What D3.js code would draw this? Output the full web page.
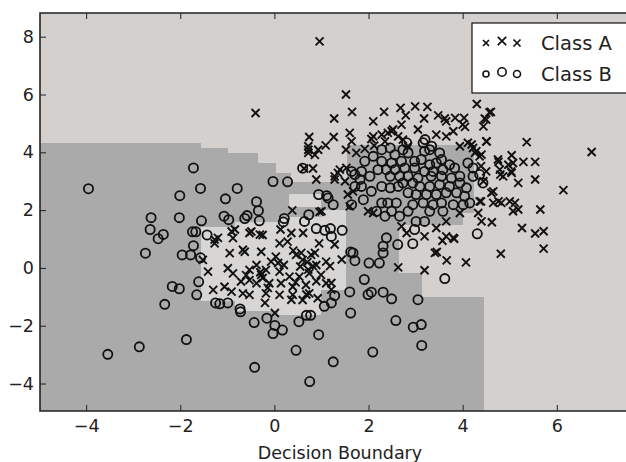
<!DOCTYPE html>
<html>
<head>
<meta charset="utf-8">
<script src="https://cdn.jsdelivr.net/npm/d3@7"></script>
<style>
  body { margin: 0; background: #fff; }
  text { font-family: "DejaVu Sans", sans-serif; }
</style>
</head>
<body>
<div id="vis"></div>
<script>
const FRAME_WIDTH = 626;
const FRAME_HEIGHT = 462;
const MARGINS = {left: 40, right: 0, top: 13, bottom: 51};

// tick labels
const X_TICKS = [-4, -2, 0, 2, 4, 6];
const Y_TICKS = [-4, -2, 0, 2, 4, 6, 8];

// decision regions, data coords [x0, x1, y0, y1]
const DARK_REGIONS = [
  [-4.98, -1.55, -4.95, 4.33],
  [-1.55, -0.98, -4.95, 4.15],
  [-0.98, -0.34, -4.95, 3.99],
  [-0.34, 0.04, -4.95, 3.64],
  [0.04, 0.36, -4.95, 3.29],
  [0.36, 1.55, -4.95, 2.97],
  [1.55, 4.25, 1.9, 4.25],
  [2.64, 4.0, 1.5, 1.9],
  [1.55, 2.64, -4.95, 1.9],
  [2.64, 3.13, -4.95, -0.16],
  [3.13, 4.45, -4.95, -1.0]
];
const LIGHT_REGIONS = [
  [-1.55, -0.84, -1.16, 1.43],
  [-0.84, 0.08, -1.5, 1.6],
  [0.08, 1.0, -1.62, 1.75],
  [1.0, 1.53, -0.75, 2.0],
  [0.3, 1.0, 2.1, 2.55]
];

// Class A (crosses)
const CLASS_A = [
  [0.96,7.84],[-0.40,5.36],[1.52,6.0],[1.27,5.17],[1.65,5.40],[2.10,5.07],[2.33,5.40],[2.68,5.54],
  [2.99,5.59],[3.25,5.57],[2.79,5.28],[3.18,5.17],[3.48,5.28],[3.62,5.17],[3.84,5.19],[4.03,5.19],
  [4.30,5.67],[4.60,5.40],[4.47,5.17],[4.44,4.90],[4.05,4.88],[3.80,4.73],[3.05,4.79],[2.49,4.73],
  [2.70,4.96],[2.28,4.61],[2.10,4.55],[1.60,4.67],[1.26,4.53],[0.74,4.53],[0.72,4.09],[0.86,3.91],
  [0.63,3.44],[0.82,3.44],[0.89,3.06],[1.09,4.24],[0.93,4.09],[1.52,4.09],[1.64,4.38],[5.36,4.35],
  [4.51,4.38],[6.74,4.01],[6.14,2.69],[4.76,3.67],[5.04,3.90],[5.29,3.67],[5.54,3.67],[4.97,3.57],
  [5.54,3.06],[4.80,3.23],[5.18,2.94],[5.04,3.29],[4.65,2.65],[4.44,3.00],[4.39,2.30],[4.76,2.30],
  [5.11,2.25],[5.18,2.02],[5.65,2.02],[5.26,1.38],[5.54,1.19],[5.72,1.27],[5.72,0.67],[4.81,0.49],
  [4.07,0.19],[3.66,0.26],[3.41,0.52],[3.45,0.55],[3.82,1.01],[3.57,0.94],[3.19,-0.08],[2.63,0.02],
  [4.40,1.61],[4.62,1.58],[0.38,1.99],[0.96,1.94],[-0.84,1.33],[-0.53,1.21],[-0.31,1.15],[0.13,1.33],
  [0.36,1.21],[0.61,1.21],[-1.20,1.04],[0.86,0.52],[0.82,0.06],[0.72,-0.06],[0.89,-0.46],[0.68,-0.92],
  [1.28,0.81],[1.18,0.06],[1.43,0.29],[1.21,-0.52],[1.21,-0.75],[0.72,3.98],[2.06,4.46],[2.12,4.23],
  [2.41,4.67],[2.52,4.79],[2.63,4.55],[2.35,4.38],[1.92,4.12],[1.74,3.98],[1.39,3.40],[1.53,3.46],
  [1.28,3.17],[3.65,5.07],[4.0,4.96],[4.57,5.38],[4.50,5.13],[4.50,4.38],[3.44,4.61],[3.65,4.55],
  [3.94,4.21],[4.11,4.33],[4.22,4.15],[4.29,4.04],[4.36,3.86],[4.39,3.52],[4.50,3.34],[4.75,3.75],
  [5.07,3.63],[5.03,3.34],[4.86,3.17],[4.79,3.40],[1.0,1.96],[1.56,2.54],[1.60,2.13],[1.99,1.96],
  [2.70,1.44],[2.81,1.21],[4.61,2.60],[4.36,2.30],[4.65,2.25],[4.82,2.25],[5.0,2.30],[5.07,1.96],
  [4.33,1.90],[3.94,1.90],[3.65,1.61],[3.44,1.38],[3.19,1.09],[3.65,1.09],[3.80,1.04],
  [-1.27,0.85],[-0.91,1.26],[-0.88,1.03],[-0.49,1.26],[-0.95,0.51],[-0.63,0.56],[-1.52,0.28],
  [-1.41,-0.13],[-0.99,-0.01],[-0.88,-0.19],[-0.53,-0.07],[-0.38,0.10],[-0.71,-0.47],[-0.53,-0.42],
  [-0.38,-0.53],[-1.30,-0.76],[-1.06,-0.65],[-0.91,-0.82],[-0.67,-0.88],[-0.53,-0.93],
  [0.11,0.85],[0.28,0.91],[-0.25,1.14],[-0.28,0.56],[0.03,0.39],[-0.07,0.22],[0.46,0.45],[0.60,0.28],
  [0.78,0.45],[0.89,0.10],[1.10,0.22],[-0.18,-0.07],[-0.28,-0.24],[0.11,-0.13],[0.32,-0.30],[0.53,-0.30],
  [0.74,-0.19],[0.99,-0.24],[1.10,-0.53],[-0.11,-0.53],[0.14,-0.53],[0.39,-0.65],[0.67,-0.59],
  [-0.18,-0.88],[0.11,-0.93],[0.39,-0.93],[0.74,-0.88],[0.92,-1.05],[0.60,-1.11],[-1.27,0.98],
  [-0.67,0.63],[0.08,0.17],[-0.20,-1.21],[0.36,-1.10],[0.57,0.52],[-0.14,-0.69],[0.01,-1.56],
  [2.73,4.44],[2.84,4.21],[1.35,3.29],[1.50,3.0],[1.28,3.06],[1.67,2.65],[2.10,1.90],[4.40,3.92],
  [4.19,4.27],[4.26,3.98],[-0.25,-0.35],[-0.30,-0.15],[0.55,0.05],[0.70,0.20],[0.20,0.10],
  [-0.60,-0.25],[0.40,0.60],[0.95,0.85],[0.45,-0.50],[0.72,4.21]
];

// Class B (circles)
const CLASS_B = [
  [-3.95,2.74],[-1.72,3.46],[-1.57,2.75],[-2.01,2.50],[-0.79,2.75],[-1.04,2.39],[-0.03,2.99],[0.28,2.98],
  [-0.38,2.29],[-0.34,1.98],[-0.32,1.63],[-0.58,1.81],[-0.63,1.71],[-1.07,1.79],[-0.97,1.67],[-1.55,1.63],
  [-2.02,1.74],[-2.62,1.74],[-2.64,1.33],[-2.36,1.16],[-2.47,1.01],[-1.74,1.25],[-1.67,1.25],[-1.43,1.14],
  [0.21,1.71],[0.19,1.59],[0.64,1.61],[0.73,1.84],[0.89,1.36],[0.94,2.54],[-2.74,0.51],[-1.96,0.45],
  [-1.78,0.45],[-1.72,0.77],[-1.57,0.35],[-1.61,-0.48],[-1.65,-0.93],[-2.17,-0.64],[-2.02,-0.72],
  [-2.33,-1.26],[-1.87,-2.48],[-2.87,-2.73],[-3.54,-2.99],[-0.42,-3.44],[0.75,-3.93],[0.46,-2.85],
  [-1.25,-1.21],[-1.16,-1.24],[-0.99,-1.21],[-0.73,-1.42],[-0.72,-1.52],[-0.43,-1.89],[-0.16,-1.74],
  [0.01,-1.99],[-0.03,-2.27],[0.17,-2.15],[0.52,-1.86],[0.68,-1.64],[0.77,-1.64],[0.94,-2.31],
  [4.31,1.18],[3.62,-0.37],[3.05,-1.10],[3.12,-1.96],[2.95,-2.05],[3.13,-2.68],[2.58,-1.82],[2.09,-2.91],
  [1.25,-3.25],[1.62,-1.56],[1.60,-0.83],[1.99,-0.92],[2.06,-0.84],[2.31,-0.84],[2.49,-1.07],[1.91,-0.40],
  [2.01,0.17],[2.23,0.17],[1.71,0.25],[1.62,0.55],[1.67,0.52],[2.31,0.75],[2.31,0.52],[2.38,1.04],
  [2.62,0.81],[2.94,0.84],[1.06,-1.33],[1.21,-1.21],[1.28,-0.96],[1.07,1.30],[1.19,1.36],[1.21,1.09],
  [1.44,1.30],[1.92,3.69],[2.10,3.86],[2.28,4.09],[2.46,4.15],[2.56,3.92],[2.73,4.09],[2.84,3.98],
  [2.70,3.69],[2.49,3.63],[2.28,3.69],[2.20,3.40],[2.38,3.40],[2.56,3.40],[2.77,3.46],[2.84,3.17],
  [2.66,3.17],[2.46,3.17],[2.03,3.17],[1.85,3.34],[1.71,3.23],[1.64,3.34],[1.82,3.06],
  [3.16,4.33],[3.19,4.04],[3.30,4.09],[3.51,3.98],[3.55,3.75],[3.44,3.63],[3.30,3.57],[3.12,3.75],
  [2.98,3.69],[2.98,3.46],[3.19,3.34],[3.37,3.34],[3.58,3.40],[3.72,3.57],[3.83,3.46],[3.94,3.17],
  [3.76,3.11],[3.55,3.17],[3.33,3.17],[3.05,3.11],[4.11,3.63],[4.22,3.46],[4.36,3.23],[4.22,3.17],
  [1.11,2.50],[1.25,2.19],[1.64,2.19],[1.89,2.36],[1.71,2.82],[1.85,2.82],[2.06,2.65],[2.28,2.82],
  [2.46,2.77],[2.63,2.82],[2.73,2.94],[2.84,2.60],[2.59,2.25],[2.41,2.25],[2.28,2.25],[2.49,1.96],
  [2.35,1.79],[2.66,1.79],[2.84,1.96],[2.17,1.96],[2.94,2.94],[3.09,2.82],[3.30,2.82],[3.51,2.88],
  [3.72,2.82],[3.94,2.94],[4.08,2.77],[3.01,2.54],[3.23,2.54],[3.44,2.54],[3.65,2.60],[3.87,2.60],
  [4.04,2.48],[2.94,2.19],[3.16,2.25],[3.37,2.19],[3.55,2.25],[3.80,2.19],[4.01,2.19],[4.15,2.25],
  [3.30,1.96],[3.58,1.96],[3.01,1.61],[3.19,1.61],[2.98,1.33],[4.43,2.94],[0.60,3.45],[1.14,2.42],
  [2.81,4.33],[3.20,4.44],[3.34,4.21]
];

const LEGEND_LABELS = ["Class A", "Class B"];

const svg = d3.select("#vis")
  .append("svg")
    .attr("width", FRAME_WIDTH)
    .attr("height", FRAME_HEIGHT);

const X_SCALE = d3.scaleLinear().domain([-4.98, 7.47]).range([MARGINS.left, FRAME_WIDTH]);
const Y_SCALE = d3.scaleLinear().domain([-4.95, 8.82]).range([FRAME_HEIGHT - MARGINS.bottom, MARGINS.top]);

svg.append("clipPath").attr("id", "plot-clip")
  .append("rect")
    .attr("x", MARGINS.left).attr("y", MARGINS.top)
    .attr("width", FRAME_WIDTH - MARGINS.left)
    .attr("height", FRAME_HEIGHT - MARGINS.top - MARGINS.bottom);

const plot = svg.append("g").attr("clip-path", "url(#plot-clip)");

// light base (class A region)
plot.append("rect")
  .attr("x", MARGINS.left).attr("y", MARGINS.top)
  .attr("width", FRAME_WIDTH - MARGINS.left)
  .attr("height", FRAME_HEIGHT - MARGINS.top - MARGINS.bottom)
  .attr("fill", "#d4d0cd");

const drawRegions = (list, color) => {
  plot.selectAll(null)
    .data(list)
    .enter()
    .append("rect")
      .attr("x", d => X_SCALE(d[0]))
      .attr("y", d => Y_SCALE(d[3]))
      .attr("width", d => X_SCALE(d[1]) - X_SCALE(d[0]))
      .attr("height", d => Y_SCALE(d[2]) - Y_SCALE(d[3]))
      .attr("fill", color)
      .attr("shape-rendering", "crispEdges");
};

drawRegions(DARK_REGIONS, "#aaaaaa");
drawRegions(LIGHT_REGIONS, "#d8d6d4");

const crossPath = (s) => `M${-s},${-s}L${s},${s}M${-s},${s}L${s},${-s}`;

plot.selectAll(".ptA")
  .data(CLASS_A)
  .enter()
  .append("path")
    .attr("class", "ptA")
    .attr("transform", d => `translate(${X_SCALE(d[0])},${Y_SCALE(d[1])})`)
    .attr("d", crossPath(4))
    .attr("stroke", "#111")
    .attr("stroke-width", 1.9)
    .attr("fill", "none");

plot.selectAll(".ptB")
  .data(CLASS_B)
  .enter()
  .append("circle")
    .attr("class", "ptB")
    .attr("cx", d => X_SCALE(d[0]))
    .attr("cy", d => Y_SCALE(d[1]))
    .attr("r", 4.6)
    .attr("stroke", "#111")
    .attr("stroke-width", 1.8)
    .attr("fill", "none");

// axes, ticks pointing inward
const bottom = FRAME_HEIGHT - MARGINS.bottom;

svg.append("g")
  .attr("transform", "translate(0," + bottom + ")")
  .call(d3.axisBottom(X_SCALE).tickValues(X_TICKS).tickSize(-6).tickPadding(9));

svg.append("g")
  .attr("transform", "translate(0," + MARGINS.top + ")")
  .call(d3.axisTop(X_SCALE).tickValues(X_TICKS).tickSize(-6).tickFormat(""));

svg.append("g")
  .attr("transform", "translate(" + MARGINS.left + ",0)")
  .call(d3.axisLeft(Y_SCALE).tickValues(Y_TICKS).tickSize(-6).tickPadding(6));

svg.selectAll(".domain").remove();
svg.selectAll(".tick line").attr("stroke", "#222").attr("stroke-width", 1);
svg.selectAll(".tick text")
  .attr("fill", "#222")
  .style("font-size", "17.5px")
  .style("font-family", "DejaVu Sans, sans-serif");

// frame (right side is cut off in the reference)
svg.append("path")
  .attr("d", `M${FRAME_WIDTH + 2},${MARGINS.top}H${MARGINS.left}V${bottom}H${FRAME_WIDTH + 2}`)
  .attr("fill", "none")
  .attr("stroke", "#222")
  .attr("stroke-width", 1.6);

// x label
svg.append("text")
  .attr("x", 340)
  .attr("y", 459)
  .attr("text-anchor", "middle")
  .attr("fill", "#222")
  .style("font-size", "17.5px")
  .text("Decision Boundary");

// legend
const legend = svg.append("g");
legend.append("rect")
  .attr("x", 472).attr("y", 23)
  .attr("width", 170).attr("height", 70)
  .attr("fill", "#fff")
  .attr("stroke", "#111")
  .attr("stroke-width", 1.2);

const legendMarkX = [486, 502, 517];
const legendSizes = [3.0, 4.2, 3.5];

legendMarkX.forEach((mx, i) => {
  legend.append("path")
    .attr("transform", `translate(${mx},${43 - (i === 1 ? 2 : 0)})`)
    .attr("d", crossPath(legendSizes[i]))
    .attr("stroke", "#111").attr("stroke-width", 1.7).attr("fill", "none");
  legend.append("circle")
    .attr("cx", mx).attr("cy", 74 - (i === 1 ? 2 : 0))
    .attr("r", legendSizes[i])
    .attr("stroke", "#111").attr("stroke-width", 1.6).attr("fill", "none");
});

legend.selectAll(".leg-text")
  .data(LEGEND_LABELS)
  .enter()
  .append("text")
    .attr("x", 541)
    .attr("y", (d, i) => 50 + i * 31)
    .attr("fill", "#222")
    .style("font-size", "19.5px")
    .text(d => d);
</script>
</body>
</html>
